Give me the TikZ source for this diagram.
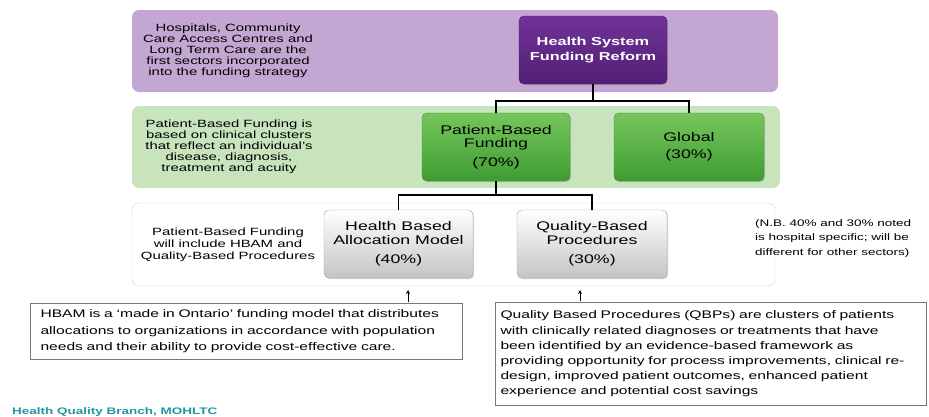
\documentclass[tikz,border=0pt]{standalone}
\usepackage{fontspec}
\setmainfont{Liberation Sans}[FakeStretch=1.42]
\usetikzlibrary{shadows,arrows.meta}
\definecolor{bandpurple}{RGB}{196,166,210}
\definecolor{bandgreen}{RGB}{200,228,188}
\definecolor{purpletop}{RGB}{112,52,152}
\definecolor{purplebot}{RGB}{82,30,118}
\definecolor{purpleedge}{RGB}{70,25,100}
\definecolor{greentop}{RGB}{118,198,92}
\definecolor{greenbot}{RGB}{62,156,50}
\definecolor{greenedge}{RGB}{60,140,48}
\definecolor{graybot}{RGB}{196,196,196}
\definecolor{grayedge}{RGB}{165,165,165}
\definecolor{footteal}{RGB}{30,150,160}
\definecolor{noteedge}{RGB}{120,120,120}
\newcommand\fsz[2]{\fontsize{#1}{#2}\selectfont}
\begin{document}
\begin{tikzpicture}[x=1pt,y=-1pt,
  band/.style={rounded corners=7pt, inner sep=0pt},
  btn/.style={rounded corners=5pt, inner sep=0pt, minimum height=68pt, align=center,
    drop shadow={opacity=0.35,shadow xshift=1.2pt,shadow yshift=-1.2pt}},
  purplebtn/.style={btn, top color=purpletop, bottom color=purplebot, draw=purpleedge,
    text=white, font=\bfseries\fsz{11.5}{15}},
  greenbtn/.style={btn, top color=greentop, bottom color=greenbot, draw=greenedge,
    font=\fsz{12.5}{13}},
  graybtn/.style={btn, top color=white, bottom color=graybot, draw=grayedge,
    font=\fsz{12.5}{14}},
  bandtext/.style={align=center, inner sep=0pt, font=\fsz{10.5}{11}},
  note/.style={draw=noteedge, line width=1pt, fill=white, align=left, inner ysep=0pt,
    anchor=north west},
  link/.style={line width=1.8pt},
  up/.style={-{Stealth[length=4pt,width=4pt]}, line width=0.9pt, shorten <=1pt}
]
\useasboundingbox (0,0) rectangle (929,416);

% bands
\node[band, fill=bandpurple, minimum width=646pt, minimum height=82pt] (pband) at (455,51) {};
\node[band, fill=bandgreen, minimum width=648pt, minimum height=82pt] (gband) at (456,147) {};
\node[band, fill=white, draw=gray!35, minimum width=643pt, minimum height=83pt] (wband) at (453.5,244.5) {};

% band texts
\node[bandtext] (ptext) at (228,51) {Hospitals, Community\\Care Access Centres and\\Long Term Care are the\\first sectors incorporated\\into the funding strategy};
\node[bandtext] (gtext) at (229,147) {Patient-Based Funding is\\based on clinical clusters\\that reflect an individual's\\disease, diagnosis,\\treatment and acuity};
\node[bandtext, font=\fsz{10.5}{12}] (wtext) at (228,245) {Patient-Based Funding\\will include HBAM and\\Quality-Based Procedures};

% buttons
\node[purplebtn, minimum width=148pt] (hsfr) at (593,50) {Health System\\Funding Reform};
\node[greenbtn, minimum width=148pt] (pbf) at (496,147) {Patient-Based\\Funding\\[6pt](70\%)};
\node[greenbtn, minimum width=150pt] (glob) at (689,147) {Global\\[4pt](30\%)};
\node[graybtn, minimum width=149pt] (hbam) at (398.5,244) {Health Based\\Allocation Model\\[5pt](40\%)};
\node[graybtn, minimum width=150pt] (qbp) at (592,244) {Quality-Based\\Procedures\\[5pt](30\%)};

% connectors
\draw[link] (hsfr.south) -- ++(0,17) -| (pbf.north);
\draw[link] (hsfr.south) -- ++(0,17) -| (glob.north);
\draw[link] (pbf.south) -- ++(0,14) -| (hbam.north);
\draw[link] (pbf.south) -- ++(0,14) -| (qbp.north);

% side note
\node[align=left, inner sep=0pt, anchor=north west, font=\fsz{9.5}{14.5}] (nb) at (755,219)
  {(N.B. 40\% and 30\% noted\\is hospital specific; will be\\different for other sectors)};

% explanation boxes
\node[note, inner xsep=10pt, text width=412pt, minimum height=56pt, font=\fsz{11}{16.5}] (hbamtxt) at (30,303)
  {HBAM is a `made in Ontario' funding model that distributes\\allocations to organizations in accordance with population\\needs and their ability to provide cost-effective care.};
\node[note, inner xsep=5pt, text width=421pt, minimum height=103pt, font=\fsz{11}{15.2}] (qbptxt) at (495,302)
  {Quality Based Procedures (QBPs) are clusters of patients\\with clinically related diagnoses or treatments that have\\been identified by an evidence-based framework as\\providing opportunity for process improvements, clinical re-\\design, improved patient outcomes, enhanced patient\\experience and potential cost savings};

% small arrows
\coordinate (hbamtip) at (408,290);
\coordinate (qbptip) at (580,290);
\draw[up] (hbamtxt.north -| hbamtip) -- (hbamtip);
\draw[up] (qbptxt.north -| qbptip) -- (qbptip);

% footer
\node[anchor=base west, inner sep=0pt, text=footteal, font=\bfseries\fsz{9.5}{11}] (foot) at (12,414)
  {Health Quality Branch, MOHLTC};
\end{tikzpicture}
\end{document}
